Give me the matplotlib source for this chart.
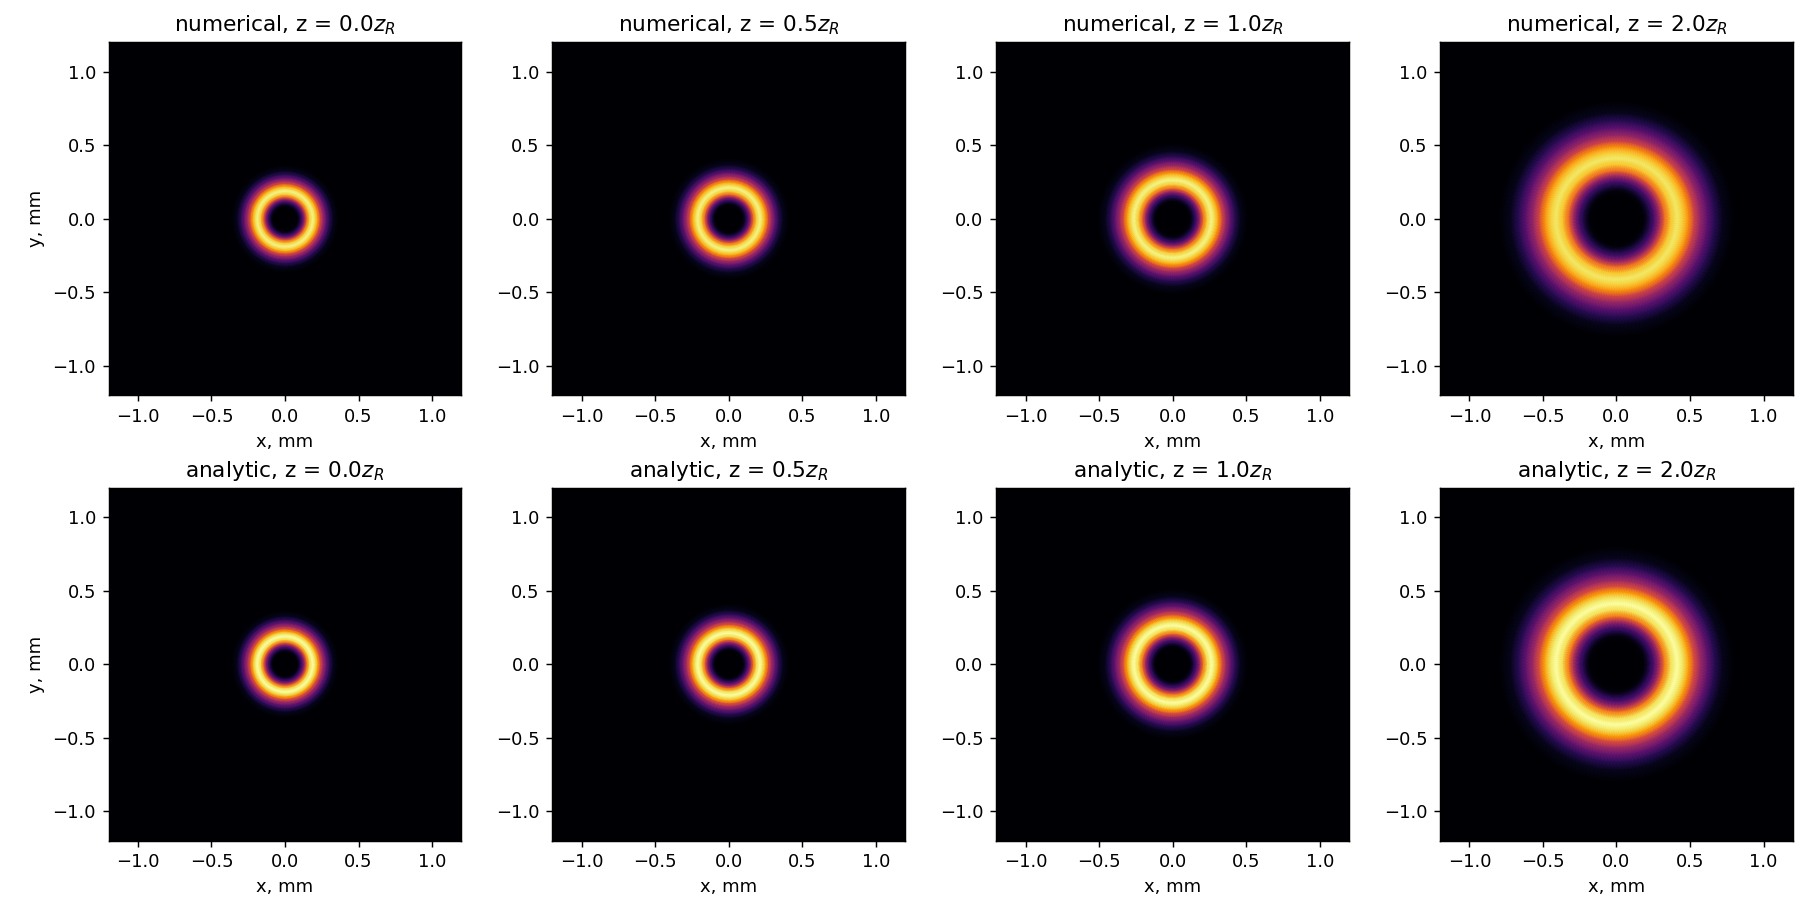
"""Numerical vs analytic ring beam at four propagation distances."""

import matplotlib.pyplot as plt
import numpy as np

Z_LABELS = ["0.0", "0.5", "1.0", "2.0"]
ROW_LABELS = ["numerical", "analytic"]
TICKS = [-1.0, -0.5, 0.0, 0.5, 1.0]

# radial intensity profiles (r in mm, value 0..1)
R_00 = [0, .07, .086, .105, .118, .137, .15, .168, .187, .206, .224, .241, .26, .282, .305, .329, .365]
R_05 = [0, .078, .097, .118, .132, .153, .168, .189, .21, .231, .252, .271, .292, .317, .342, .37, .41]
R_10 = [0, .097, .121, .147, .165, .191, .21, .236, .262, .288, .314, .338, .364, .396, .427, .461, .511]
R_20 = [0, .152, .189, .23, .258, .299, .328, .369, .41, .451, .492, .529, .57, .619, .668, .722, .80]

I_NUM = [0, 0, .02, .14, .24, .49, .70, .89, .97, .90, .76, .56, .41, .26, .13, .05, 0]
I_NUM_20 = [0, 0, .02, .14, .24, .47, .68, .87, .94, .88, .74, .55, .40, .26, .14, .05, 0]
I_ANA = [0, 0, .02, .15, .25, .50, .72, .92, 1, .93, .78, .58, .42, .27, .14, .05, 0]

PROFILES = [
    [(R_00, I_NUM), (R_05, I_NUM), (R_10, I_NUM), (R_20, I_NUM_20)],
    [(R_00, I_ANA), (R_05, I_ANA), (R_10, I_ANA), (R_20, I_ANA)],
]


def draw_ring(ax, radii, values):
    """Sweeps the radial samples round the centre, gouraud does the shading."""
    theta = np.linspace(0, 2 * np.pi, 181)
    rr, tt = np.meshgrid(radii, theta)
    cc = np.tile(values, (len(theta), 1))
    ax.pcolormesh(rr * np.cos(tt), rr * np.sin(tt), cc, shading="gouraud",
                  cmap="inferno", vmin=0, vmax=1)


def main():
    fig, axes = plt.subplots(2, 4, figsize=(14, 7), dpi=130)
    for row, row_label in enumerate(ROW_LABELS):
        for col, z in enumerate(Z_LABELS):
            ax = axes[row, col]
            ax.set_facecolor(plt.get_cmap("inferno")(0.0))
            draw_ring(ax, *PROFILES[row][col])
            ax.set_xlim(-1.2, 1.2)
            ax.set_ylim(-1.2, 1.2)
            ax.set_aspect("equal")
            ax.set_xticks(TICKS)
            ax.set_yticks(TICKS)
            ax.set_title(f"{row_label}, z = {z}$z_R$")
            ax.set_xlabel("x, mm")
            if col == 0:
                ax.set_ylabel("y, mm")
    fig.tight_layout()
    fig.savefig("out.png", dpi=130)


if __name__ == "__main__":
    main()
